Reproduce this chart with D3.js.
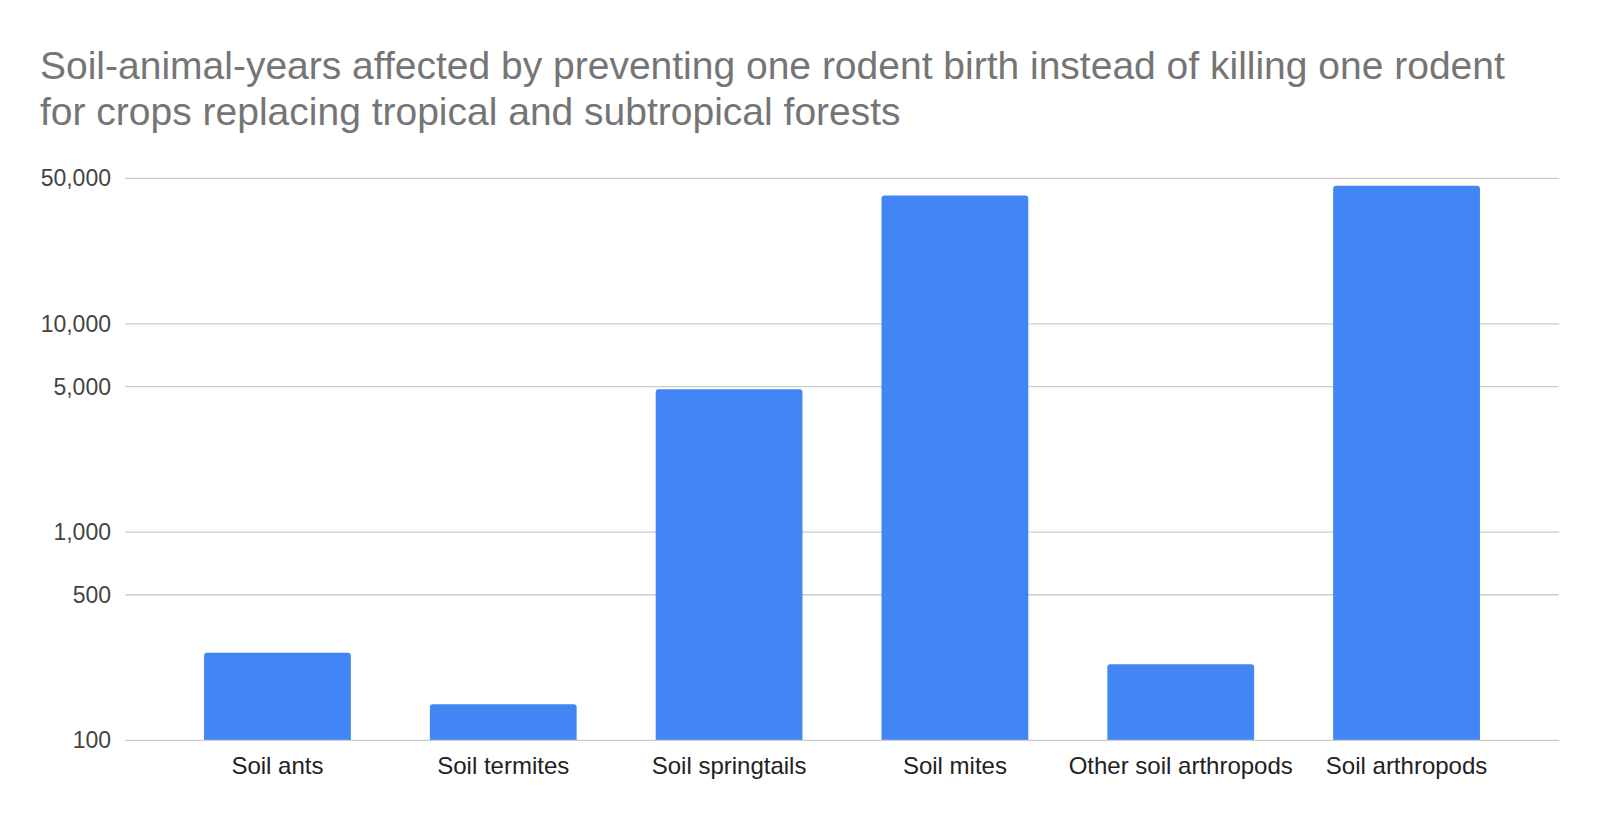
<!DOCTYPE html>
<html>
<head>
<meta charset="utf-8">
<script src="https://cdn.jsdelivr.net/npm/d3@7"></script>
<style>
  body { margin: 0; background: #fff; }
  svg { display: block; font-family: "Liberation Sans", Arial, sans-serif; }
</style>
</head>
<body>
<div id="chart"></div>
<script>
const width = 1600;
const height = 822;

const titleLines = [
  "Soil-animal-years affected by preventing one rodent birth instead of killing one rodent",
  "for crops replacing tropical and subtropical forests",
];

const categories = [
  "Soil ants",
  "Soil termites",
  "Soil springtails",
  "Soil mites",
  "Other soil arthropods",
  "Soil arthropods",
];
const values = [263, 149, 4850, 41300, 232, 46100];
const yTicks = [100, 500, 1000, 5000, 10000, 50000];

const BAR_COLOR = "#4285f4";
const GRID_COLOR = "#cccccc";
const CORNER = 3;

const plot = { left: 125, right: 1559, top: 178.3, bottom: 740.3 };

const svg = d3.select("#chart")
  .append("svg")
  .attr("width", width)
  .attr("height", height);

const x = d3.scaleBand()
  .domain(categories)
  .range([plot.left, plot.right])
  .paddingInner(0.35)
  .paddingOuter(0.35);

const y = d3.scaleLog()
  .domain([100, 50000])
  .range([plot.bottom, plot.top]);

// title
svg.append("g")
  .selectAll("text")
  .data(titleLines)
  .join("text")
  .attr("x", 40)
  .attr("y", (d, i) => 79 + i * 46)
  .attr("fill", "#757575")
  .attr("font-size", 39)
  .text(d => d);

// gridlines (baseline drawn later on top of bars)
svg.append("g")
  .selectAll("line")
  .data(yTicks.filter(t => t !== 100))
  .join("line")
  .attr("x1", plot.left)
  .attr("x2", plot.right)
  .attr("y1", d => y(d))
  .attr("y2", d => y(d))
  .attr("stroke", GRID_COLOR)
  .attr("stroke-width", 1.3);

// y tick labels
svg.append("g")
  .selectAll("text")
  .data(yTicks)
  .join("text")
  .attr("x", 111)
  .attr("y", d => y(d))
  .attr("dy", "0.35em")
  .attr("text-anchor", "end")
  .attr("fill", "#444444")
  .attr("font-size", 23)
  .text(d => d3.format(",")(d));

function barPath(x0, y0, w, h, r) {
  return `M${x0},${y0 + h}V${y0 + r}Q${x0},${y0} ${x0 + r},${y0}` +
    `H${x0 + w - r}Q${x0 + w},${y0} ${x0 + w},${y0 + r}V${y0 + h}Z`;
}

// bars
svg.append("g")
  .selectAll("path")
  .data(categories.map((c, i) => ({ c, v: values[i] })))
  .join("path")
  .attr("fill", BAR_COLOR)
  .attr("d", d => {
    const top = y(d.v);
    return barPath(x(d.c), top, x.bandwidth(), plot.bottom - top, CORNER);
  });

// baseline
svg.append("line")
  .attr("x1", plot.left)
  .attr("x2", plot.right)
  .attr("y1", y(100))
  .attr("y2", y(100))
  .attr("stroke", GRID_COLOR)
  .attr("stroke-width", 1.3);

// x labels
svg.append("g")
  .selectAll("text")
  .data(categories)
  .join("text")
  .attr("x", d => x(d) + x.bandwidth() / 2)
  .attr("y", 774)
  .attr("text-anchor", "middle")
  .attr("fill", "#222222")
  .attr("font-size", 24)
  .text(d => d);
</script>
</body>
</html>
